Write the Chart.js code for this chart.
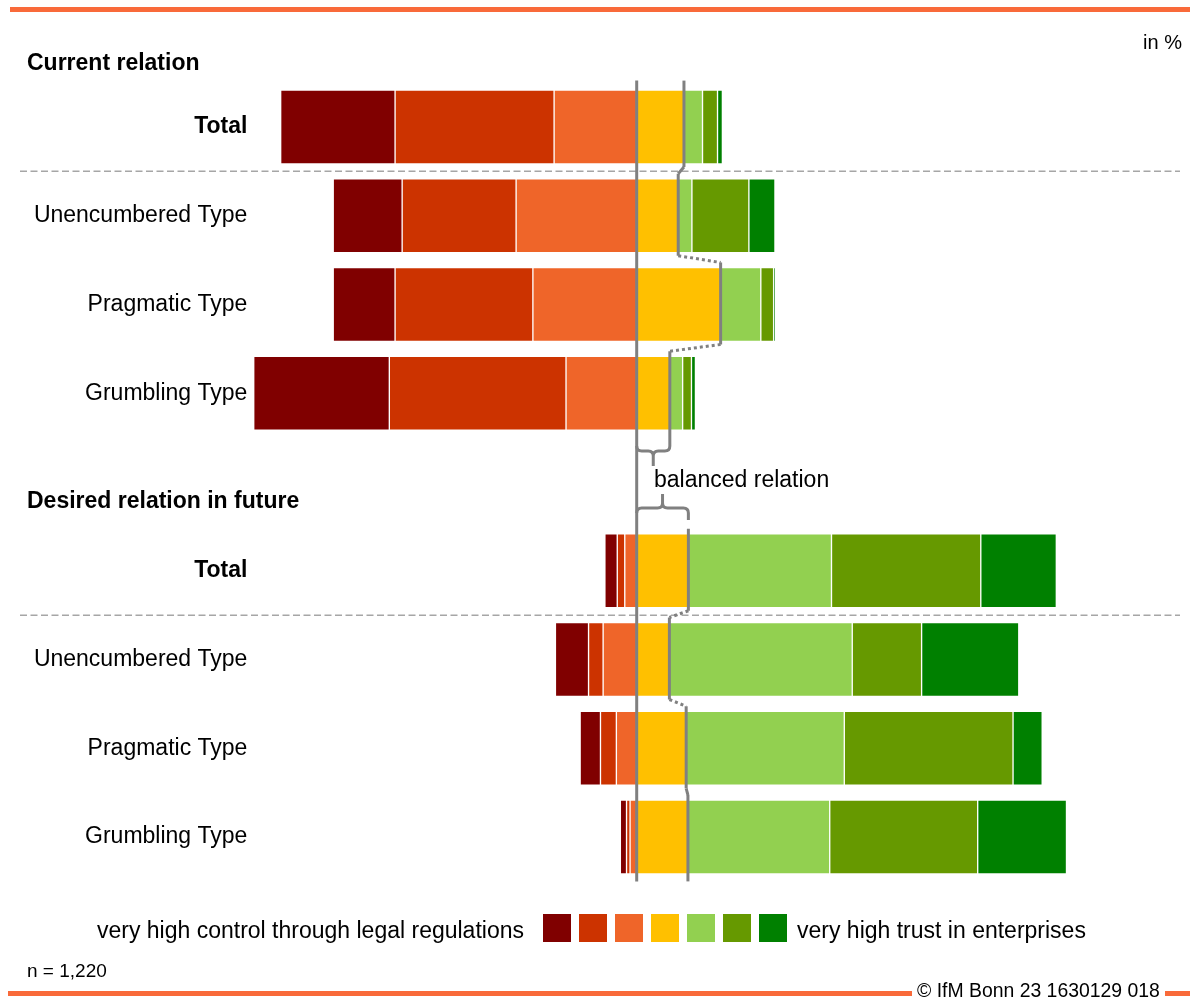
<!DOCTYPE html>
<html>
<head>
<meta charset="utf-8">
<script src="https://cdn.jsdelivr.net/npm/chart.js@4.4.1/dist/chart.umd.min.js"></script>
<style>
  html, body { margin: 0; padding: 0; background: #fff; }
  #wrap { position: relative; width: 1190px; height: 999px; overflow: hidden; font-family: "Liberation Sans", Arial, sans-serif; color: #000; }
  #c { position: absolute; left: 0; top: 0; }
  .t { position: absolute; white-space: nowrap; line-height: 1; transform: translateY(-50%); }
  .bar { position: absolute; background: #F96A3A; }
  .sw { position: absolute; width: 28px; height: 28px; top: 914px; }
</style>
</head>
<body>
<div id="wrap">
  <canvas id="c" width="1190" height="999"></canvas>
  <div class="bar" style="left:10px;top:7px;width:1180px;height:5px;"></div>
  <div class="t" style="right:8px;top:42px;font-size:20px;">in %</div>
  <div class="t" style="left:27px;top:62px;font-size:23px;font-weight:bold;">Current relation</div>
  <div class="t" style="left:27px;top:500px;font-size:23px;font-weight:bold;">Desired relation in future</div>
  <div class="t" style="left:654px;top:479px;font-size:23px;">balanced relation</div>
  <div class="t" style="right:666px;top:930px;font-size:23px;">very high control through legal regulations</div>
  <div id="legend"></div>
  <div class="t" style="left:797px;top:930px;font-size:23px;">very high trust in enterprises</div>
  <div class="t" style="left:27px;top:970px;font-size:19px;">n = 1,220</div>
  <div class="bar" style="left:8px;top:991px;width:904px;height:5px;"></div>
  <div class="t" style="left:917px;top:991px;font-size:19.4px;">© IfM Bonn 23 1630129 018</div>
  <div class="bar" style="left:1165px;top:991px;width:25px;height:5px;"></div>
</div>
<script>
// ---- data (percent) ----
const categories = ['Total', 'Unencumbered Type', 'Pragmatic Type', 'Grumbling Type', '',
                    'Total', 'Unencumbered Type', 'Pragmatic Type', 'Grumbling Type'];
const boldRows = [0, 5];
const veryHighControl = [25.9, 15.6, 14.0, 30.7, null, 2.8, 7.5, 4.6, 1.4];
const highControl     = [36.0, 25.8, 31.2, 40.0, null, 1.7, 3.3, 3.6, 0.8];
const someControl     = [18.7, 27.3, 23.5, 16.0, null, 2.7, 7.6, 4.6, 1.5];
const balanced        = [10.7,  9.4, 19.0,  7.5, null, 11.7, 7.4, 11.2, 11.6];
const someTrust       = [ 4.2,  3.1,  9.1,  2.9, null, 32.4, 41.4, 35.8, 32.1];
const highTrust       = [ 3.4, 12.9,  2.9,  2.0, null, 33.8, 15.7, 38.2, 33.5];
const veryHighTrust   = [ 1.1,  5.9,  0.3,  0.9, null, 17.1, 22.0,  6.6, 20.1];
const seriesColors = ['#800000', '#CC3300', '#EF6529', '#FFC000', '#92D050', '#669900', '#008000'];

// legend swatches
const legendX = [543, 579, 615, 651, 687, 723, 759];
const lg = document.getElementById('legend');
seriesColors.forEach((c, i) => {
  const d = document.createElement('div');
  d.className = 'sw'; d.style.left = legendX[i] + 'px'; d.style.background = c;
  lg.appendChild(d);
});

const neg = a => a.map(v => v == null ? null : -v);
function ds(label, data, color) {
  return { label, data, backgroundColor: color, borderColor: 'rgba(255,255,255,0.18)',
           borderWidth: 1, borderSkipped: false, barThickness: 74 };
}
const datasets = [
  ds('some control', neg(someControl), seriesColors[2]),
  ds('high control', neg(highControl), seriesColors[1]),
  ds('very high control', neg(veryHighControl), seriesColors[0]),
  ds('balanced', balanced, seriesColors[3]),
  ds('some trust', someTrust, seriesColors[4]),
  ds('high trust', highTrust, seriesColors[5]),
  ds('very high trust', veryHighTrust, seriesColors[6])
];

const overlay = {
  id: 'overlay',
  afterDatasetsDraw(chart) {
    const { ctx, chartArea: a, scales: { x, y } } = chart;
    const x0 = x.getPixelForValue(0);
    const line = (x1, y1, x2, y2) => { ctx.beginPath(); ctx.moveTo(x1, y1); ctx.lineTo(x2, y2); ctx.stroke(); };
    ctx.save();
    // dashed separators
    ctx.strokeStyle = '#A6A6A6'; ctx.lineWidth = 1.5; ctx.setLineDash([7, 3.5]); ctx.lineCap = 'butt';
    [0, 5].forEach(i => {
      const yy = (y.getPixelForValue(i) + y.getPixelForValue(i + 1)) / 2;
      line(20, yy, 1180, yy);
    });
    // center line
    ctx.setLineDash([]); ctx.strokeStyle = '#808080'; ctx.lineWidth = 3;
    line(x0, a.top - 2, x0, a.bottom);

    const cBlank = y.getPixelForValue(4);
    const r = 5;
    const groups = [[0, 1, 2, 3], [5, 6, 7, 8]];
    groups.forEach((g, gi) => {
      let prev = null;
      g.forEach((i, k) => {
        const xi = x.getPixelForValue(balanced[i]);
        const c = y.getPixelForValue(i);
        let top = c - 42, bottom = c + 40;
        if (gi === 0 && k === 0) top = a.top - 2;
        if (gi === 0 && k === g.length - 1) bottom = cBlank - 31 - r;
        if (gi === 1 && k === g.length - 1) bottom = a.bottom;
        ctx.setLineDash([]);
        line(xi, top, xi, bottom);
        if (prev) {
          if (Math.abs(prev.x - xi) > 10) ctx.setLineDash([3, 3]); else ctx.setLineDash([]);
          line(prev.x, prev.b, xi, top);
          ctx.setLineDash([]);
        }
        prev = { x: xi, b: bottom };
      });
    });

    // brace 1 (under current bars, tip down)
    ctx.setLineDash([]);
    let xb = x.getPixelForValue(balanced[3]);
    let yh = cBlank - 31, tipY = cBlank - 16, tipX = (x0 + xb) / 2;
    ctx.beginPath();
    ctx.moveTo(x0, yh - r); ctx.quadraticCurveTo(x0, yh, x0 + r, yh);
    ctx.lineTo(tipX - r, yh); ctx.quadraticCurveTo(tipX, yh, tipX, yh + r); ctx.lineTo(tipX, tipY);
    ctx.moveTo(tipX, yh + r); ctx.quadraticCurveTo(tipX, yh, tipX + r, yh);
    ctx.lineTo(xb - r, yh); ctx.quadraticCurveTo(xb, yh, xb, yh - r);
    ctx.stroke();

    // brace 2 (above future bars, tip up)
    xb = x.getPixelForValue(balanced[5]);
    yh = cBlank + 26; tipY = cBlank + 12; tipX = (x0 + xb) / 2;
    ctx.beginPath();
    ctx.moveTo(x0, yh + r); ctx.quadraticCurveTo(x0, yh, x0 + r, yh);
    ctx.lineTo(tipX - r, yh); ctx.quadraticCurveTo(tipX, yh, tipX, yh - r); ctx.lineTo(tipX, tipY);
    ctx.moveTo(tipX, yh - r); ctx.quadraticCurveTo(tipX, yh, tipX + r, yh);
    ctx.lineTo(xb - r, yh); ctx.quadraticCurveTo(xb, yh, xb, yh + r); ctx.lineTo(xb, cBlank + 38);
    ctx.stroke();
    ctx.restore();
  }
};

new Chart(document.getElementById('c'), {
  type: 'bar',
  data: { labels: categories, datasets },
  options: {
    indexAxis: 'y',
    responsive: false,
    animation: false,
    devicePixelRatio: 1,
    layout: { padding: { left: 0, right: 89.5, top: 82.6, bottom: 117.6 } },
    plugins: { legend: { display: false }, tooltip: { enabled: false } },
    scales: {
      x: { display: false, stacked: true, min: -87, max: 105 },
      y: {
        stacked: true,
        grid: { display: false, drawTicks: false },
        border: { display: false },
        afterFit(scale) { scale.width = 252.4; },
        ticks: {
          padding: 5,
          color: '#000',
          font: (ctx) => ({ family: 'Liberation Sans', size: 23,
                            weight: boldRows.includes(ctx.index) ? 'bold' : 'normal' })
        }
      }
    }
  },
  plugins: [overlay]
});
</script>
</body>
</html>
